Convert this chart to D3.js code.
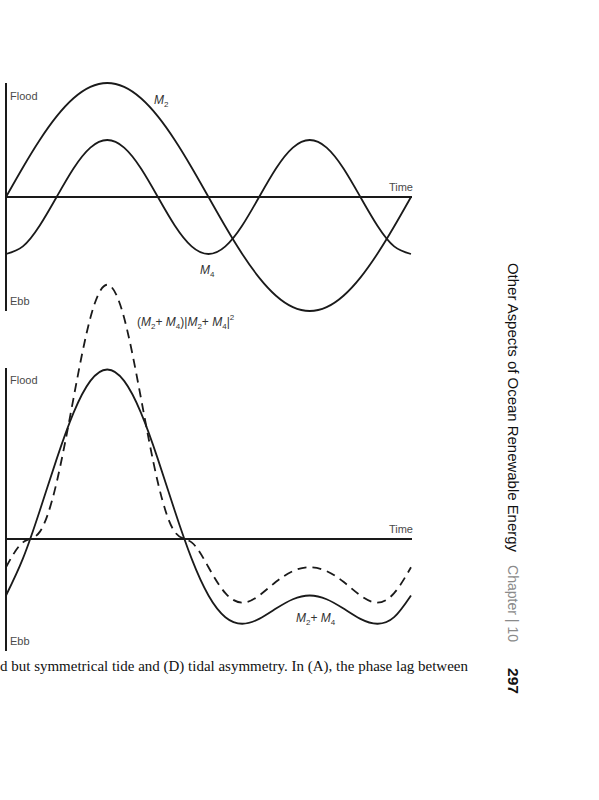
<!DOCTYPE html>
<html>
<head>
<meta charset="utf-8">
<script src="https://cdn.jsdelivr.net/npm/d3@7/dist/d3.min.js"></script>
<style>
  html, body { margin: 0; padding: 0; background: #fff; }
  svg { display: block; }
</style>
</head>
<body>
<svg id="chart" width="599" height="800"></svg>
<script>
// Phase of the M2 cycle (degrees), one full M2 period across the time axis
const phaseDeg = [0,15,30,45,60,75,90,105,120,135,150,165,180,195,210,225,240,255,270,285,300,315,330,345,360];
// Panel (top): M2 and M4 constituents (relative amplitude)
const m2 = [0,0.259,0.5,0.707,0.866,0.966,1,0.966,0.866,0.707,0.5,0.259,0,-0.259,-0.5,-0.707,-0.866,-0.966,-1,-0.966,-0.866,-0.707,-0.5,-0.259,0];
const m4 = [-0.5,-0.433,-0.25,0,0.25,0.433,0.5,0.433,0.25,0,-0.25,-0.433,-0.5,-0.433,-0.25,0,0.25,0.433,0.5,0.433,0.25,0,-0.25,-0.433,-0.5];
// Panel (bottom): combined tide M2+M4 and (M2+M4)|M2+M4|
const m2m4 = [-0.5,-0.174,0.25,0.707,1.116,1.399,1.5,1.399,1.116,0.707,0.25,-0.174,-0.5,-0.692,-0.75,-0.707,-0.616,-0.533,-0.5,-0.533,-0.616,-0.707,-0.75,-0.692,-0.5];
const asym = [-0.25,-0.03,0.063,0.5,1.245,1.957,2.25,1.957,1.245,0.5,0.063,-0.03,-0.25,-0.479,-0.563,-0.5,-0.379,-0.284,-0.25,-0.284,-0.379,-0.5,-0.563,-0.479,-0.25];

const axisLabels = { flood: "Flood", ebb: "Ebb", time: "Time" };
const captionText = "d but symmetrical tide and (D) tidal asymmetry. In (A), the phase lag between";

const svg = d3.select("#chart");
const ink = "#1a1a1a";
const labelGray = "#4a4a4a";
const sans = "'Liberation Sans', Arial, Helvetica, sans-serif";

const x = d3.scaleLinear().domain([0, 360]).range([6, 411]);
const yTop = d3.scaleLinear().domain([-1, 1]).range([311, 83]);
const yBot = d3.scaleLinear().domain([-1, 1]).range([652, 426]);

function drawCurve(vals, y, dashed) {
  const line = d3.line()
    .x((d, i) => x(phaseDeg[i]))
    .y(d => y(d))
    .curve(d3.curveNatural);
  svg.append("path")
    .attr("d", line(vals))
    .attr("fill", "none")
    .attr("stroke", ink)
    .attr("stroke-width", 1.8)
    .attr("stroke-dasharray", dashed ? "9,6" : null);
}

function panel(y, vTop, vBot, floodY, ebbY) {
  // vertical axis
  svg.append("line").attr("x1", 6).attr("x2", 6)
    .attr("y1", vTop).attr("y2", vBot)
    .attr("stroke", ink).attr("stroke-width", 2);
  // time axis
  svg.append("line").attr("x1", x(0)).attr("x2", x(360) + 1)
    .attr("y1", y(0)).attr("y2", y(0))
    .attr("stroke", ink).attr("stroke-width", 2);
  svg.append("text").attr("x", 10).attr("y", floodY)
    .attr("font-family", sans).attr("font-size", 11).attr("fill", labelGray)
    .text(axisLabels.flood);
  svg.append("text").attr("x", 10).attr("y", ebbY)
    .attr("font-family", sans).attr("font-size", 11).attr("fill", labelGray)
    .text(axisLabels.ebb);
  svg.append("text").attr("x", 413).attr("y", y(0) - 6)
    .attr("text-anchor", "end")
    .attr("font-family", sans).attr("font-size", 11).attr("fill", labelGray)
    .text(axisLabels.time);
}

// Top panel
panel(yTop, 83, 311, 100, 305);
drawCurve(m2, yTop, false);
drawCurve(m4, yTop, false);

// Bottom panel
panel(yBot, 368, 651, 384, 645);
drawCurve(asym, yBot, true);
drawCurve(m2m4, yBot, false);

// Italic labels with subscripts
function subLabel(xp, yp, parts) {
  const t = svg.append("text").attr("x", xp).attr("y", yp)
    .attr("font-family", sans).attr("font-size", 12).attr("fill", "#333");
  parts.forEach(p => {
    const ts = t.append("tspan").text(p.t);
    if (p.i) ts.attr("font-style", "italic");
    if (p.sub) ts.attr("font-size", 8).attr("dy", 3);
    if (p.sup) ts.attr("font-size", 8).attr("dy", -6);
    if (p.back) ts.attr("dy", p.back);
  });
}
subLabel(154, 104, [{t: "M", i: true}, {t: "2", sub: true}]);
subLabel(200, 274, [{t: "M", i: true}, {t: "4", sub: true}]);
subLabel(137, 326, [
  {t: "("}, {t: "M", i: true}, {t: "2", sub: true}, {t: "+ ", back: -3}, {t: "M", i: true},
  {t: "4", sub: true}, {t: ")|", back: -3}, {t: "M", i: true}, {t: "2", sub: true},
  {t: "+ ", back: -3}, {t: "M", i: true}, {t: "4", sub: true}, {t: "|", back: -3}, {t: "2", sup: true}
]);
subLabel(296, 622, [{t: "M", i: true}, {t: "2", sub: true}, {t: "+ ", back: -3}, {t: "M", i: true}, {t: "4", sub: true}]);

// Caption line (serif)
svg.append("text").attr("x", 0).attr("y", 671)
  .attr("font-family", "'Liberation Serif', 'Times New Roman', serif")
  .attr("font-size", 14.5).attr("fill", "#111")
  .attr("textLength", 468).attr("lengthAdjust", "spacingAndGlyphs")
  .text(captionText);

// Running header (rotated)
function vtext(yStart, len, txt, opts) {
  svg.append("text")
    .attr("transform", `translate(508,${yStart}) rotate(90)`)
    .attr("font-family", sans)
    .attr("font-size", opts.size || 14)
    .attr("font-weight", opts.bold ? "bold" : "normal")
    .attr("fill", opts.color || "#111")
    .attr("textLength", len).attr("lengthAdjust", "spacingAndGlyphs")
    .text(txt);
}
vtext(263, 289, "Other Aspects of Ocean Renewable Energy", {size: 14.5});
vtext(565, 77, "Chapter | 10", {size: 14.5, color: "#8a8a8a"});
vtext(668, 26, "297", {size: 15, bold: true});
</script>
</body>
</html>
